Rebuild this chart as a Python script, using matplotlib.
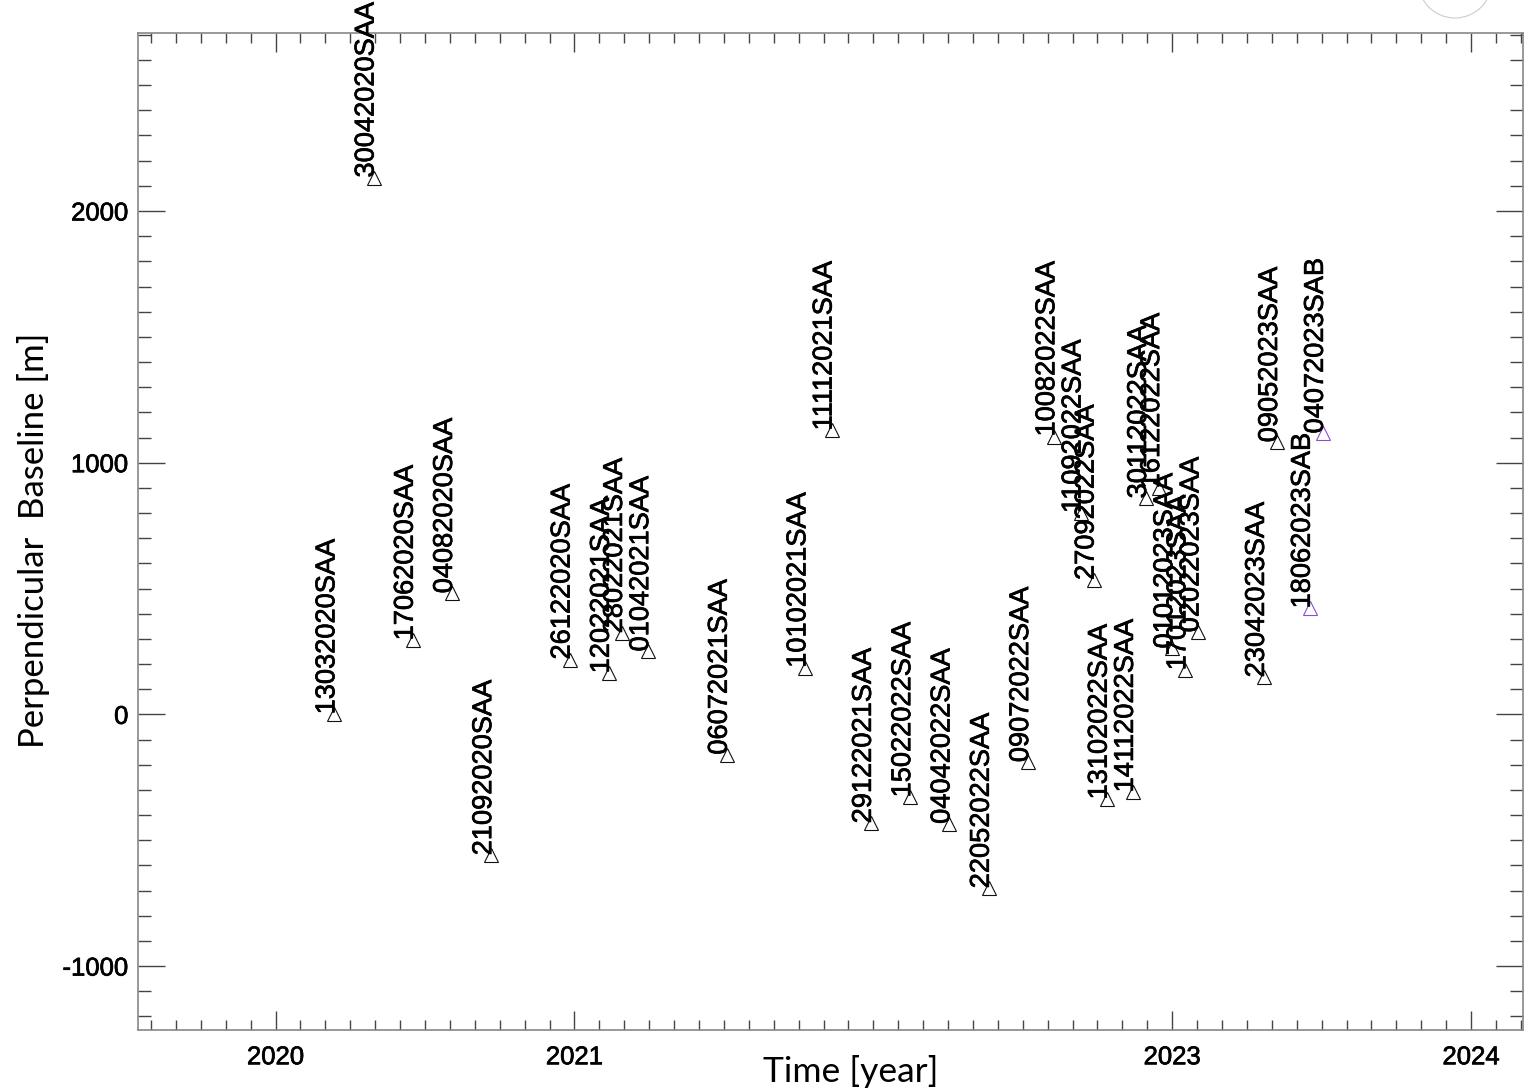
import matplotlib
matplotlib.use("Agg")
import matplotlib.pyplot as plt
from matplotlib.ticker import MultipleLocator
from matplotlib.patches import Ellipse
import matplotlib.patheffects as pe
import datetime as dt

# ---- data ----
labels = ["13032020SAA", "30042020SAA", "17062020SAA", "04082020SAA", "21092020SAA",
          "26122020SAA", "12022021SAA", "28022021SAA", "01042021SAA", "06072021SAA",
          "10102021SAA", "11112021SAA", "29122021SAA", "15022022SAA", "04042022SAA",
          "22052022SAA", "09072022SAA", "10082022SAA", "11092022SAA", "27092022SAA",
          "13102022SAA", "14112022SAA", "30112022SAA", "16122022SAA", "01012023SAA",
          "17012023SAA", "02022023SAA", "23042023SAA", "09052023SAA", "18062023SAB",
          "04072023SAB"]
baselines = [0, 2133, 294, 481, -560,
             218, 163, 322, 250, -160,
             185, 1128, -433, -330, -435,
             -691, -190, 1104, 800, 534,
             -338, -310, 858, 898, 262,
             175, 326, 147, 1081, 421,
             1116]

def decimal_year(lbl):
    d = int(lbl[0:2]); m = int(lbl[2:4]); y = int(lbl[4:8])
    date = dt.date(y, m, d)
    start = dt.date(y, 1, 1)
    ndays = (dt.date(y + 1, 1, 1) - start).days
    return y + (date - start).days / ndays

times = [decimal_year(l) for l in labels]

x_ticks = [2020, 2021, 2023, 2024]
y_ticks = [-1000, 0, 1000, 2000]

# ---- figure ----
W, H = 1530, 1092
fig = plt.figure(figsize=(W / 100, H / 100), dpi=100)
ax = fig.add_axes([137.5 / W, 1 - 1030 / H, (1522.5 - 137.5) / W, (1030 - 33.3) / H])

ax.set_xlim(2019.538, 2024.172)
ax.set_ylim(-1254, 2706)

heavy = [pe.withStroke(linewidth=0.5, foreground="black")]

for t, b, l in zip(times, baselines, labels):
    col = "#8a4fd0" if l.endswith("SAB") else "#111111"
    ax.plot(t, b, marker="^", markersize=9.5, markerfacecolor="none",
            markeredgecolor=col, markeredgewidth=0.8, linestyle="none")
    ax.text(t, b, l, rotation=90, rotation_mode="anchor", ha="left", va="baseline",
            fontsize=19.6, family="Liberation Sans", color="black", path_effects=heavy)

ax.set_xticks(x_ticks)
ax.set_xticklabels([str(v) for v in x_ticks])
ax.xaxis.set_minor_locator(MultipleLocator(1 / 12))
ax.set_yticks(y_ticks)
ax.set_yticklabels([str(v) for v in y_ticks])
ax.yaxis.set_minor_locator(MultipleLocator(100))

for lab in ax.get_xticklabels() + ax.get_yticklabels():
    lab.set_family("Liberation Sans")
    lab.set_fontsize(18.5)
    lab.set_path_effects(heavy)

ax.tick_params(axis="x", which="major", direction="in", length=13.7, width=1.0,
               color="#444444", top=True, bottom=True, pad=11)
ax.tick_params(axis="x", which="minor", direction="in", length=7, width=1.0,
               color="#444444", top=True, bottom=True)
ax.tick_params(axis="y", which="major", direction="in", length=19.5, width=1.0,
               color="#444444", left=True, right=True, pad=6.5)
ax.tick_params(axis="y", which="minor", direction="in", length=9.5, width=1.0,
               color="#444444", left=True, right=True)

for s in ax.spines.values():
    s.set_color("#888888")
    s.set_linewidth(1.2)

fig.text(34 / W, 1 - 540 / H, "Perpendicular  Baseline [m]", rotation=90,
         ha="center", va="center", fontsize=25, family="Lato", color="black")
fig.text(851 / W, 1 - 1072 / H, "Time [year]", ha="center", va="center",
         fontsize=25.5, family="Lato", color="black")

# faint circle artefact at top right
circ = Ellipse((1455 / W, 1 + 19 / H), 74 / W, 74 / H, transform=fig.transFigure,
               fill=False, edgecolor="#cccccc", linewidth=0.8)
fig.patches.append(circ)

fig.savefig("out.png", dpi=100)
